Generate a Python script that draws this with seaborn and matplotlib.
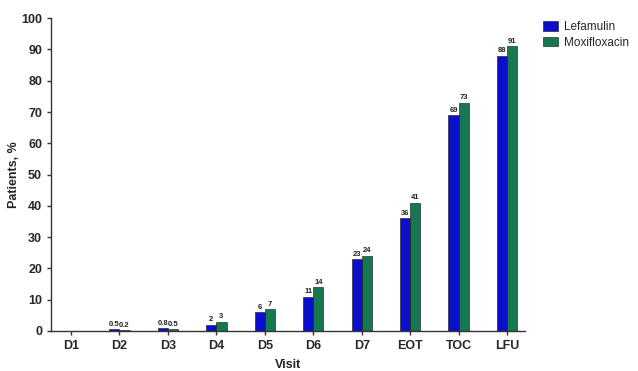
import matplotlib
matplotlib.use("Agg")
import matplotlib.pyplot as plt
import seaborn as sns
import pandas as pd

visits = ["D1", "D2", "D3", "D4", "D5", "D6", "D7", "EOT", "TOC", "LFU"]
lefamulin = [0, 0.5, 0.8, 2, 6, 11, 23, 36, 69, 88]
moxifloxacin = [0, 0.2, 0.5, 3, 7, 14, 24, 41, 73, 91]
lefamulin_labels = ["", "0.5", "0.8", "2", "6", "11", "23", "36", "69", "88"]
moxifloxacin_labels = ["", "0.2", "0.5", "3", "7", "14", "24", "41", "73", "91"]
treatments = ["Lefamulin", "Moxifloxacin"]
colors = ["#0b0fcc", "#17774f"]

df = pd.DataFrame({
    "Visit": visits * 2,
    "Patients": lefamulin + moxifloxacin,
    "Treatment": [treatments[0]] * len(visits) + [treatments[1]] * len(visits),
})

sns.set_style("ticks")
plt.rcParams["font.family"] = ["Liberation Sans", "DejaVu Sans"]
plt.rcParams["font.weight"] = "bold"

fig = plt.figure(figsize=(6.38, 3.71), dpi=100)
ax = fig.add_axes([0.080, 0.108, 0.743, 0.843])

sns.barplot(data=df, x="Visit", y="Patients", hue="Treatment",
            order=visits, hue_order=treatments, palette=colors,
            width=0.42, saturation=1, edgecolor="#111111", linewidth=0.4,
            ax=ax)

for container, labels in zip(ax.containers, [lefamulin_labels, moxifloxacin_labels]):
    ax.bar_label(container, labels=labels, fontsize=5.5, fontweight="bold",
                 padding=1, color="#222222")

ax.set_ylim(0, 100)
ax.set_yticks(range(0, 101, 10))
ax.set_xlim(-0.41, 9.37)
ax.set_xlabel("Visit", fontsize=9, fontweight="bold", labelpad=5)
ax.set_ylabel("Patients, %", fontsize=9, fontweight="bold", labelpad=0.5)
ax.tick_params(axis="both", labelsize=9, width=1, length=3, color="#333333")
for lab in ax.get_xticklabels() + ax.get_yticklabels():
    lab.set_fontweight("bold")
sns.despine(ax=ax)
for side in ["left", "bottom"]:
    ax.spines[side].set_linewidth(1)
    ax.spines[side].set_color("#333333")

ax.legend(loc="upper left", bbox_to_anchor=(1.015, 1.025), frameon=False,
          handlelength=1.3, handleheight=0.9,
          handletextpad=0.5, labelspacing=0.3, prop={"weight": "normal", "size": 8.5})

fig.savefig("out.png", dpi=100)
